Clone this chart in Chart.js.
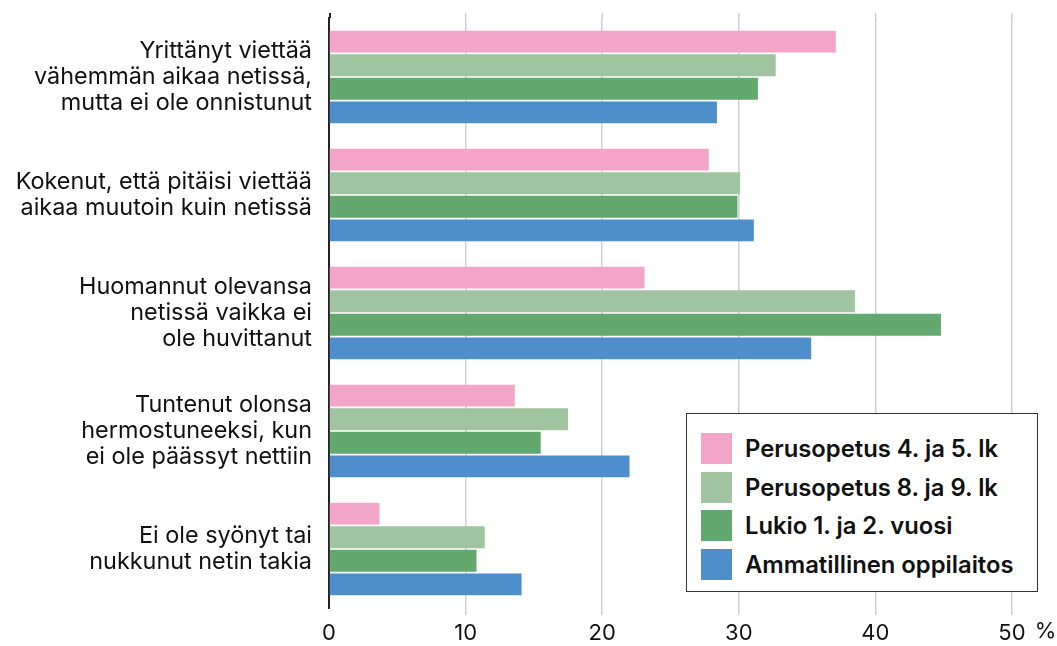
<!DOCTYPE html>
<html lang="fi">
<head>
<meta charset="utf-8">
<script src="https://cdn.jsdelivr.net/npm/chart.js@4"></script>
<style>
    html, body { margin: 0; padding: 0; background: #fff; }
    #wrap { position: relative; width: 1057px; height: 646px; }
    #legend {
        position: absolute; left: 686px; top: 413px; width: 352px; height: 179px;
        border: 1.5px solid #333; background: #fff; box-sizing: border-box;
        font-family: Inter, sans-serif; font-weight: 600; font-size: 23.8px; color: #111;
        padding: 15px 0 0 14px;
    }
    .item { display: flex; align-items: center; height: 38.7px; }
    .swatch { width: 31px; height: 31px; margin-right: 13px; flex: none; }
</style>
</head>
<body>
<div id="wrap">
    <canvas id="chart" width="1057" height="646"></canvas>
    <div id="legend"></div>
</div>
<script>
// Données
const categories = [
    ['Yrittänyt viettää', 'vähemmän aikaa netissä,', 'mutta ei ole onnistunut'],
    ['Kokenut, että pitäisi viettää', 'aikaa muutoin kuin netissä'],
    ['Huomannut olevansa', 'netissä vaikka ei', 'ole huvittanut'],
    ['Tuntenut olonsa', 'hermostuneeksi, kun', 'ei ole päässyt nettiin'],
    ['Ei ole syönyt tai', 'nukkunut netin takia']
];
const seriesNames = ['Perusopetus 4. ja 5. lk', 'Perusopetus 8. ja 9. lk', 'Lukio 1. ja 2. vuosi', 'Ammatillinen oppilaitos'];
const perus45 = [37.1, 27.8, 23.1, 13.6, 3.7];
const perus89 = [32.7, 30.1, 38.5, 17.5, 11.4];
const lukio = [31.4, 29.9, 44.8, 15.5, 10.8];
const ammatillinen = [28.4, 31.1, 35.3, 22.0, 14.1];
const xTicks = [0, 10, 20, 30, 40, 50];
const colors = ['#F3A5C9', '#A0C49F', '#63A96F', '#4D8ECB'];

const fontFamily = 'Inter, sans-serif';
const tickSize = 22;

// Signe % après la dernière graduation
const percentPlugin = {
    id: 'percent',
    afterDraw(chart) {
        const x = chart.scales.x;
        const ctx = chart.ctx;
        const px = x.getPixelForValue(50);
        ctx.save();
        ctx.font = tickSize + 'px ' + fontFamily;
        const w = ctx.measureText('50').width;
        ctx.fillStyle = '#111';
        ctx.textAlign = 'left';
        ctx.textBaseline = 'top';
        ctx.fillText('%', px + w / 2 + 9, x.top + 7 + 5);
        ctx.restore();
    }
};

// Prolongement des lignes au-dessus de la zone du graphique
const topExtendPlugin = {
    id: 'topExtend',
    beforeDatasetsDraw(chart) {
        const x = chart.scales.x;
        const top = chart.chartArea.top;
        const ctx = chart.ctx;
        ctx.save();
        xTicks.forEach(v => {
            const px = x.getPixelForValue(v);
            ctx.beginPath();
            ctx.strokeStyle = v === 0 ? '#222' : '#cfcfcf';
            ctx.lineWidth = v === 0 ? 2 : 1.5;
            ctx.moveTo(v === 0 ? px + 1 : px, top - 5);
            ctx.lineTo(v === 0 ? px + 1 : px, top);
            ctx.stroke();
        });
        ctx.restore();
    }
};

const allSeries = [perus45, perus89, lukio, ammatillinen];

new Chart(document.getElementById('chart'), {
    type: 'bar',
    data: {
        labels: categories,
        datasets: allSeries.map((values, i) => ({
            label: seriesNames[i],
            data: values,
            backgroundColor: colors[i],
            categoryPercentage: 0.8,
            barPercentage: 0.93
        }))
    },
    options: {
        indexAxis: 'y',
        responsive: false,
        animation: false,
        layout: { padding: { top: 18, right: 45, bottom: 0, left: 0 } },
        plugins: { legend: { display: false }, tooltip: { enabled: false } },
        scales: {
            x: {
                min: 0,
                max: 50,
                afterBuildTicks: s => { s.ticks = xTicks.map(v => ({ value: v })); },
                afterFit: s => {
                    s.height = 38;
                    s.paddingLeft = 0;
                    s.paddingRight = 0;
                },
                grid: {
                    color: ctx => ctx.tick && ctx.tick.value === 0 ? 'rgba(0,0,0,0)' : '#cfcfcf',
                    lineWidth: 1.5,
                    tickLength: 7
                },
                border: { display: false },
                ticks: {
                    padding: 5,
                    color: '#111',
                    font: { family: fontFamily, size: tickSize }
                }
            },
            y: {
                afterFit: s => {
                    s.width = 329;
                    s.paddingTop = 0;
                    s.paddingBottom = 0;
                },
                grid: { display: false },
                border: { display: true, color: '#222', width: 2 },
                ticks: {
                    padding: 9,
                    color: '#111',
                    font: { family: fontFamily, size: 23.4, lineHeight: 1.12 }
                }
            }
        }
    },
    plugins: [percentPlugin, topExtendPlugin]
});

// Légende HTML
const legend = document.getElementById('legend');
seriesNames.forEach((name, i) => {
    const item = document.createElement('div');
    item.className = 'item';
    item.innerHTML = `<span class="swatch" style="background:${colors[i]}"></span><span>${name}</span>`;
    legend.appendChild(item);
});
</script>
</body>
</html>
